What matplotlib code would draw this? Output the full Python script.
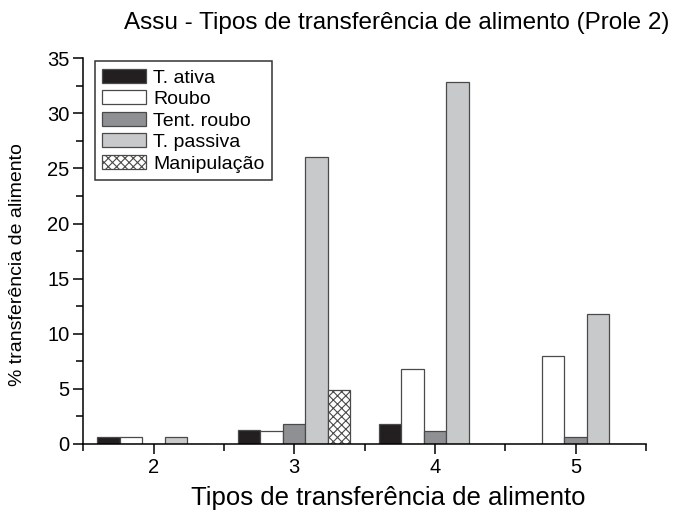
import matplotlib

matplotlib.use("Agg")
import matplotlib.pyplot as plt
import numpy as np
from matplotlib.ticker import MultipleLocator

plt.rcParams["font.family"] = ["Liberation Sans", "DejaVu Sans"]
plt.rcParams["hatch.linewidth"] = 0.8

categories = [2, 3, 4, 5]
series = ["T. ativa", "Roubo", "Tent. roubo", "T. passiva", "Manipulação"]
t_ativa = [0.6, 1.25, 1.85, 0.0]
roubo = [0.6, 1.2, 6.8, 8.0]
tent_roubo = [0.0, 1.85, 1.2, 0.6]
t_passiva = [0.6, 26.0, 32.8, 11.8]
manipulacao = [0.0, 4.9, 0.0, 0.0]

values = [t_ativa, roubo, tent_roubo, t_passiva, manipulacao]
colors = ["#231f20", "#ffffff", "#8f9093", "#c8c9cb", "#ffffff"]
hatches = [None, None, None, None, "xxxx"]

fig = plt.figure(figsize=(6.82, 5.15), dpi=100)
ax = fig.add_axes([0.122, 0.138, 0.825, 0.749])

width = 0.16
x = np.array(categories, dtype=float)
for i, (name, vals) in enumerate(zip(series, values)):
    offset = (i - 2) * width
    ax.bar(x + offset, vals, width=width, color=colors[i], edgecolor="#4a4a4a",
           linewidth=0.9, hatch=hatches[i], label=name)

ax.set_xlim(1.5, 5.5)
ax.set_ylim(0, 35)
ax.set_xticks(categories)
ax.set_xticks([1.5, 2.5, 3.5, 4.5, 5.5], minor=True)
ax.yaxis.set_major_locator(MultipleLocator(5))
ax.yaxis.set_minor_locator(MultipleLocator(2.5))

ax.spines["top"].set_visible(False)
ax.spines["right"].set_visible(False)
ax.spines["left"].set_linewidth(1.1)
ax.spines["bottom"].set_linewidth(1.1)
ax.tick_params(which="major", direction="out", length=7, width=1.1, labelsize=14.5, pad=3)
ax.tick_params(which="minor", direction="out", length=5, width=1.1)

ax.set_title("Assu - Tipos de transferência de alimento (Prole 2)", fontsize=17.5, pad=21, x=0.558)
ax.set_xlabel("Tipos de transferência de alimento", fontsize=18.5)
ax.xaxis.set_label_coords(0.542, -0.11)
ax.set_ylabel("% transferência de alimento", fontsize=14)
ax.yaxis.set_label_coords(-0.102, 0.464)

leg = ax.legend(loc="upper left", bbox_to_anchor=(0.015, 1.0), fancybox=False,
                edgecolor="black", fontsize=14, handlelength=2.25, handleheight=0.7,
                handletextpad=0.35, labelspacing=0.2, borderpad=0.4, borderaxespad=0.15)
leg.get_frame().set_linewidth(1.1)

fig.savefig("out.png", dpi=100)
